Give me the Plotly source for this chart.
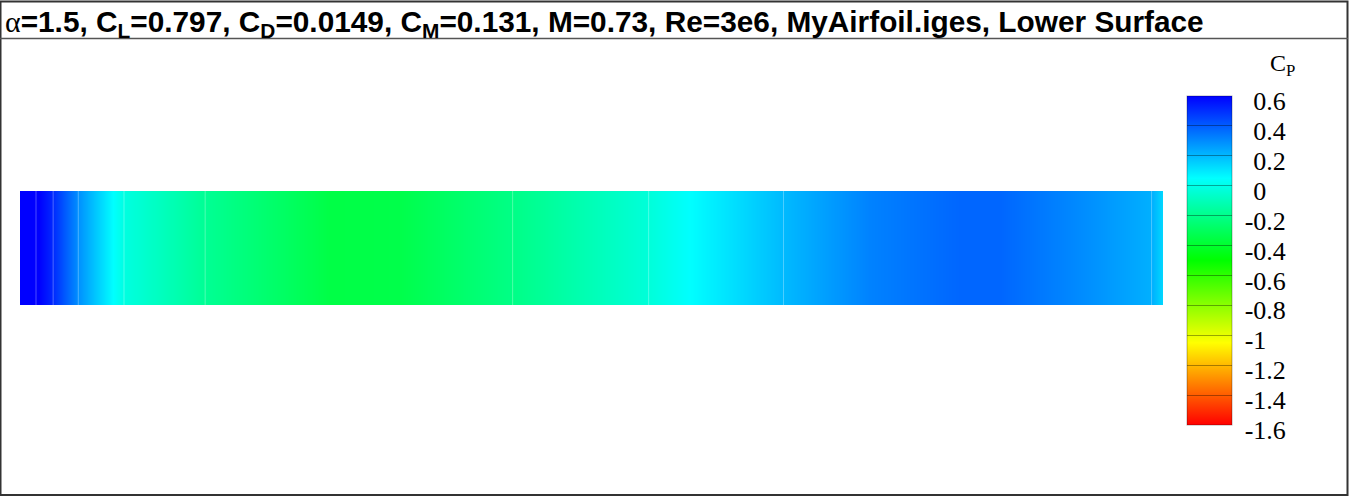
import plotly.graph_objects as go

W, H = 1350, 496

# ---- data ----
x_c = [0.000, 0.014, 0.029, 0.051, 0.081, 0.091, 0.162, 0.271, 0.332, 0.431,
       0.550, 0.586, 0.668, 0.744, 0.822, 0.857, 0.927, 0.990, 1.000]
cp = [1.00, 0.62, 0.51, 0.29, 0.05, -0.015, -0.18, -0.35, -0.34, -0.21,
      -0.03, 0.05, 0.20, 0.32, 0.38, 0.38, 0.30, 0.22, 0.13]
mesh_x = [0.014, 0.029, 0.051, 0.091, 0.162, 0.431, 0.550, 0.668, 0.990]
span_y = [0.0, 1.0]
cb_ticks = [0.6, 0.4, 0.2, 0.0, -0.2, -0.4, -0.6, -0.8, -1.0, -1.2, -1.4, -1.6]
cp_min, cp_max = -1.6, 0.6

title_text = ('<span style="font-family:\'Liberation Serif\';font-weight:normal">α</span>'
              '<b>=1.5, C<sub>L</sub>=0.797, C<sub>D</sub>=0.0149, C<sub>M</sub>=0.131, '
              'M=0.73, Re=3e6, MyAirfoil.iges, Lower Surface</b>')

colorscale = [[0.0, 'rgb(255,0,0)'], [0.25, 'rgb(255,255,0)'], [0.5, 'rgb(0,255,0)'],
              [0.75, 'rgb(0,255,255)'], [1.0, 'rgb(0,0,255)']]

SERIF = 'Liberation Serif, Times New Roman, serif'


def px(x):
    return x / W


def py(y):
    return 1 - y / H


HID = '<span style="color:rgba(0,0,0,0)">-</span>'


def fmt(v):
    s = f"{round(v, 1):g}"
    if s == "-0":
        s = "0"
    if v >= 0:
        s = HID + s
    return ('<span style="baseline-shift:-5px;font-family:\'Liberation Serif\'">\u00a0'
            + s + '</span>')


fig = go.Figure()
fig.add_trace(go.Heatmap(
    x=x_c, y=span_y, z=[cp, cp], zsmooth='best',
    zmin=cp_min, zmax=cp_max, colorscale=colorscale,
    colorbar=dict(
        x=px(1187), xanchor='left', y=py(260.5), yanchor='middle',
        thickness=45, thicknessmode='pixels', len=329, lenmode='pixels',
        outlinewidth=1, outlinecolor='rgba(0,0,0,0.3)',
        ticks='inside', ticklen=45, tickwidth=1, tickcolor='rgba(0,0,0,0.35)',
        tickvals=cb_ticks, ticktext=[fmt(v) for v in cb_ticks],
        tickfont=dict(family=SERIF, size=26, color='black'),
        xpad=0, ypad=0,
    ),
    hoverinfo='skip',
))

mx, my = [], []
for m in mesh_x:
    mx += [m, m, None]
    my += [span_y[0], span_y[1], None]
fig.add_trace(go.Scatter(x=mx, y=my, mode='lines',
                         line=dict(color='rgba(255,255,255,0.3)', width=1),
                         hoverinfo='skip', showlegend=False))

fig.update_layout(
    width=W, height=H, margin=dict(l=0, r=0, t=0, b=0),
    font=dict(family=SERIF, color='black'),
    paper_bgcolor='white', plot_bgcolor='white', showlegend=False,
    xaxis=dict(domain=[px(20), px(1163)], range=[0, 1], visible=False, fixedrange=True),
    yaxis=dict(domain=[py(305), py(191)], range=[0, 1], visible=False, fixedrange=True),
    annotations=[
        dict(text=title_text, x=px(3), y=py(24), xref='paper', yref='paper',
             xanchor='left', yanchor='middle', showarrow=False,
             font=dict(family='Liberation Sans', size=29.8, color='black')),
        dict(text='C<sub>P</sub>', x=px(1282), y=py(65), xref='paper', yref='paper',
             xanchor='center', yanchor='middle', showarrow=False,
             font=dict(family=SERIF, size=24, color='black')),
    ],
    shapes=[
        dict(type='rect', xref='paper', yref='paper', x0=px(0.5), x1=px(1347.5),
             y0=py(495), y1=py(1.5), line=dict(color='#333', width=2)),
        dict(type='line', xref='paper', yref='paper', x0=0, x1=px(1348),
             y0=py(38.5), y1=py(38.5), line=dict(color='#555', width=1.5)),
    ],
)

fig.write_html("out.html")
